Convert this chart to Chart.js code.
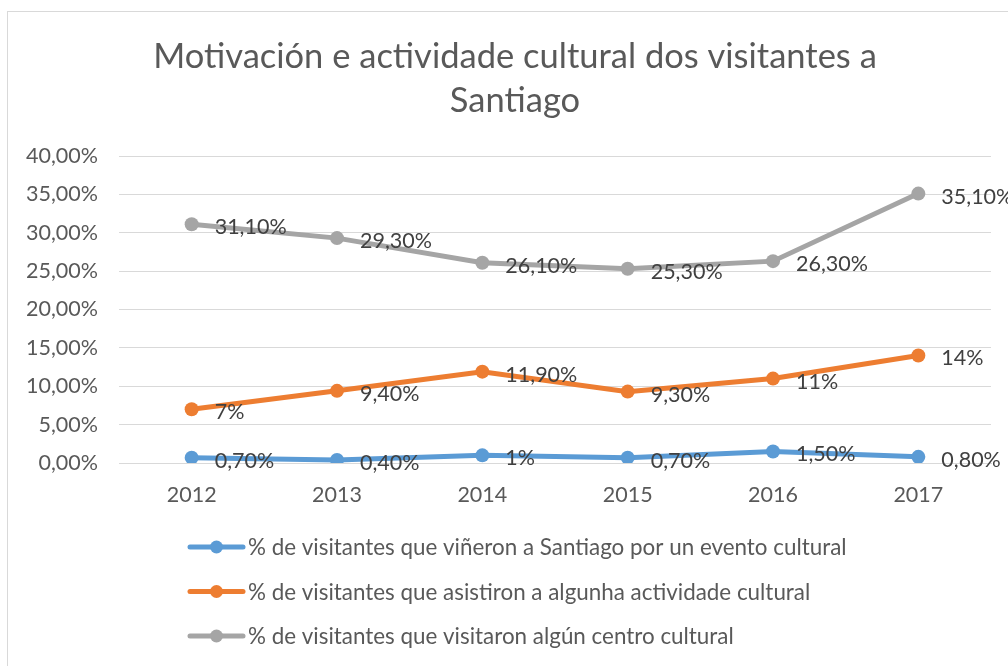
<!DOCTYPE html>
<html>
<head>
<meta charset="utf-8">
<script src="https://cdn.jsdelivr.net/npm/chart.js@4"></script>
<style>
  html, body { margin: 0; padding: 0; background: #ffffff; }
  #wrap { position: relative; width: 1008px; height: 666px; overflow: hidden; }
  #frame { position: absolute; left: 7px; top: 11px; width: 1100px; height: 700px; border: 1px solid #D9D9D9; box-sizing: border-box; }
  canvas { position: absolute; left: 0; top: 0; }
</style>
</head>
<body>
<div id="wrap">
  <div id="frame"></div>
  <canvas id="c" width="1008" height="666"></canvas>
</div>
<script>
const titleLines = ['Motivación e actividade cultural dos visitantes a', 'Santiago'];
const years = ['2012', '2013', '2014', '2015', '2016', '2017'];
const seriesNames = [
  '% de visitantes que viñeron a Santiago por un evento cultural',
  '% de visitantes que asistiron a algunha actividade cultural',
  '% de visitantes que visitaron algún centro cultural'
];
const eventoCultural = [0.7, 0.4, 1, 0.7, 1.5, 0.8];
const actividadeCultural = [7, 9.4, 11.9, 9.3, 11, 14];
const centroCultural = [31.1, 29.3, 26.1, 25.3, 26.3, 35.1];
const eventoLabels = ['0,70%', '0,40%', '1%', '0,70%', '1,50%', '0,80%'];
const actividadeLabels = ['7%', '9,40%', '11,90%', '9,30%', '11%', '14%'];
const centroLabels = ['31,10%', '29,30%', '26,10%', '25,30%', '26,30%', '35,10%'];
const yTicks = [0, 5, 10, 15, 20, 25, 30, 35, 40];
const colors = ['#5B9BD5', '#ED7D31', '#A5A5A5'];

const FONT = 'Lato, "Open Sans", sans-serif';

const titlePlugin = {
  id: 'customTitle',
  afterDraw(chart) {
    const ctx = chart.ctx;
    ctx.save();
    ctx.font = '34.5px ' + FONT;
    ctx.fillStyle = '#595959';
    ctx.textAlign = 'center';
    ctx.textBaseline = 'middle';
    titleLines.forEach((t, i) => ctx.fillText(t, 515, 57 + i * 44));
    ctx.restore();
  }
};

const dataLabelPlugin = {
  id: 'dataLabels',
  afterDatasetsDraw(chart) {
    const ctx = chart.ctx;
    ctx.save();
    ctx.font = '21.5px ' + FONT;
    ctx.fillStyle = '#404040';
    ctx.textAlign = 'left';
    ctx.textBaseline = 'middle';
    chart.data.datasets.forEach((ds, i) => {
      const meta = chart.getDatasetMeta(i);
      meta.data.forEach((pt, j) => {
        ctx.fillText(ds.valueLabels[j], pt.x + 23, pt.y + 3);
      });
    });
    ctx.restore();
  }
};

const legendPlugin = {
  id: 'customLegend',
  afterDraw(chart) {
    const ctx = chart.ctx;
    const base = chart.chartArea.bottom + 84;
    ctx.save();
    ctx.font = '22.4px ' + FONT;
    ctx.textAlign = 'left';
    ctx.textBaseline = 'middle';
    chart.data.datasets.forEach((ds, i) => {
      const y = base + i * 44.5;
      ctx.strokeStyle = ds.borderColor;
      ctx.lineWidth = 5;
      ctx.lineCap = 'round';
      ctx.beginPath();
      ctx.moveTo(190, y);
      ctx.lineTo(243, y);
      ctx.stroke();
      ctx.fillStyle = ds.borderColor;
      ctx.beginPath();
      ctx.arc(216.5, y, 6.5, 0, Math.PI * 2);
      ctx.fill();
      ctx.fillStyle = '#595959';
      ctx.fillText(ds.label, 248, y + 1);
    });
    ctx.restore();
  }
};

function fmtPct(v) {
  return v.toFixed(2).replace('.', ',') + '%';
}

new Chart(document.getElementById('c'), {
  type: 'line',
  data: {
    labels: years,
    datasets: [
      { label: seriesNames[0], data: eventoCultural, valueLabels: eventoLabels, borderColor: colors[0], backgroundColor: colors[0] },
      { label: seriesNames[1], data: actividadeCultural, valueLabels: actividadeLabels, borderColor: colors[1], backgroundColor: colors[1] },
      { label: seriesNames[2], data: centroCultural, valueLabels: centroLabels, borderColor: colors[2], backgroundColor: colors[2] }
    ].map(d => Object.assign(d, { borderWidth: 5, pointRadius: 7, pointHoverRadius: 7, pointBorderWidth: 0, tension: 0, fill: false }))
  },
  options: {
    responsive: false,
    animation: false,
    devicePixelRatio: 1,
    layout: { padding: { left: 0, right: 17, top: 156, bottom: 0 } },
    plugins: {
      legend: { display: false },
      tooltip: { enabled: false },
      title: { display: false }
    },
    scales: {
      x: {
        offset: true,
        grid: { display: false, drawTicks: false },
        border: { display: true, color: '#D9D9D9', width: 1 },
        ticks: { color: '#595959', font: { family: FONT, size: 21.5 }, padding: 19, maxRotation: 0 },
        afterFit(scale) { scale.height = 203; }
      },
      y: {
        min: 0,
        max: 40,
        afterBuildTicks(scale) { scale.ticks = yTicks.map(v => ({ value: v })); },
        grid: { color: '#D9D9D9', lineWidth: 1, drawTicks: false },
        border: { display: false },
        ticks: { color: '#595959', font: { family: FONT, size: 21.5 }, padding: 21, callback: v => fmtPct(v) },
        afterFit(scale) { scale.width = 119; }
      }
    }
  },
  plugins: [titlePlugin, dataLabelPlugin, legendPlugin]
});
</script>
</body>
</html>
